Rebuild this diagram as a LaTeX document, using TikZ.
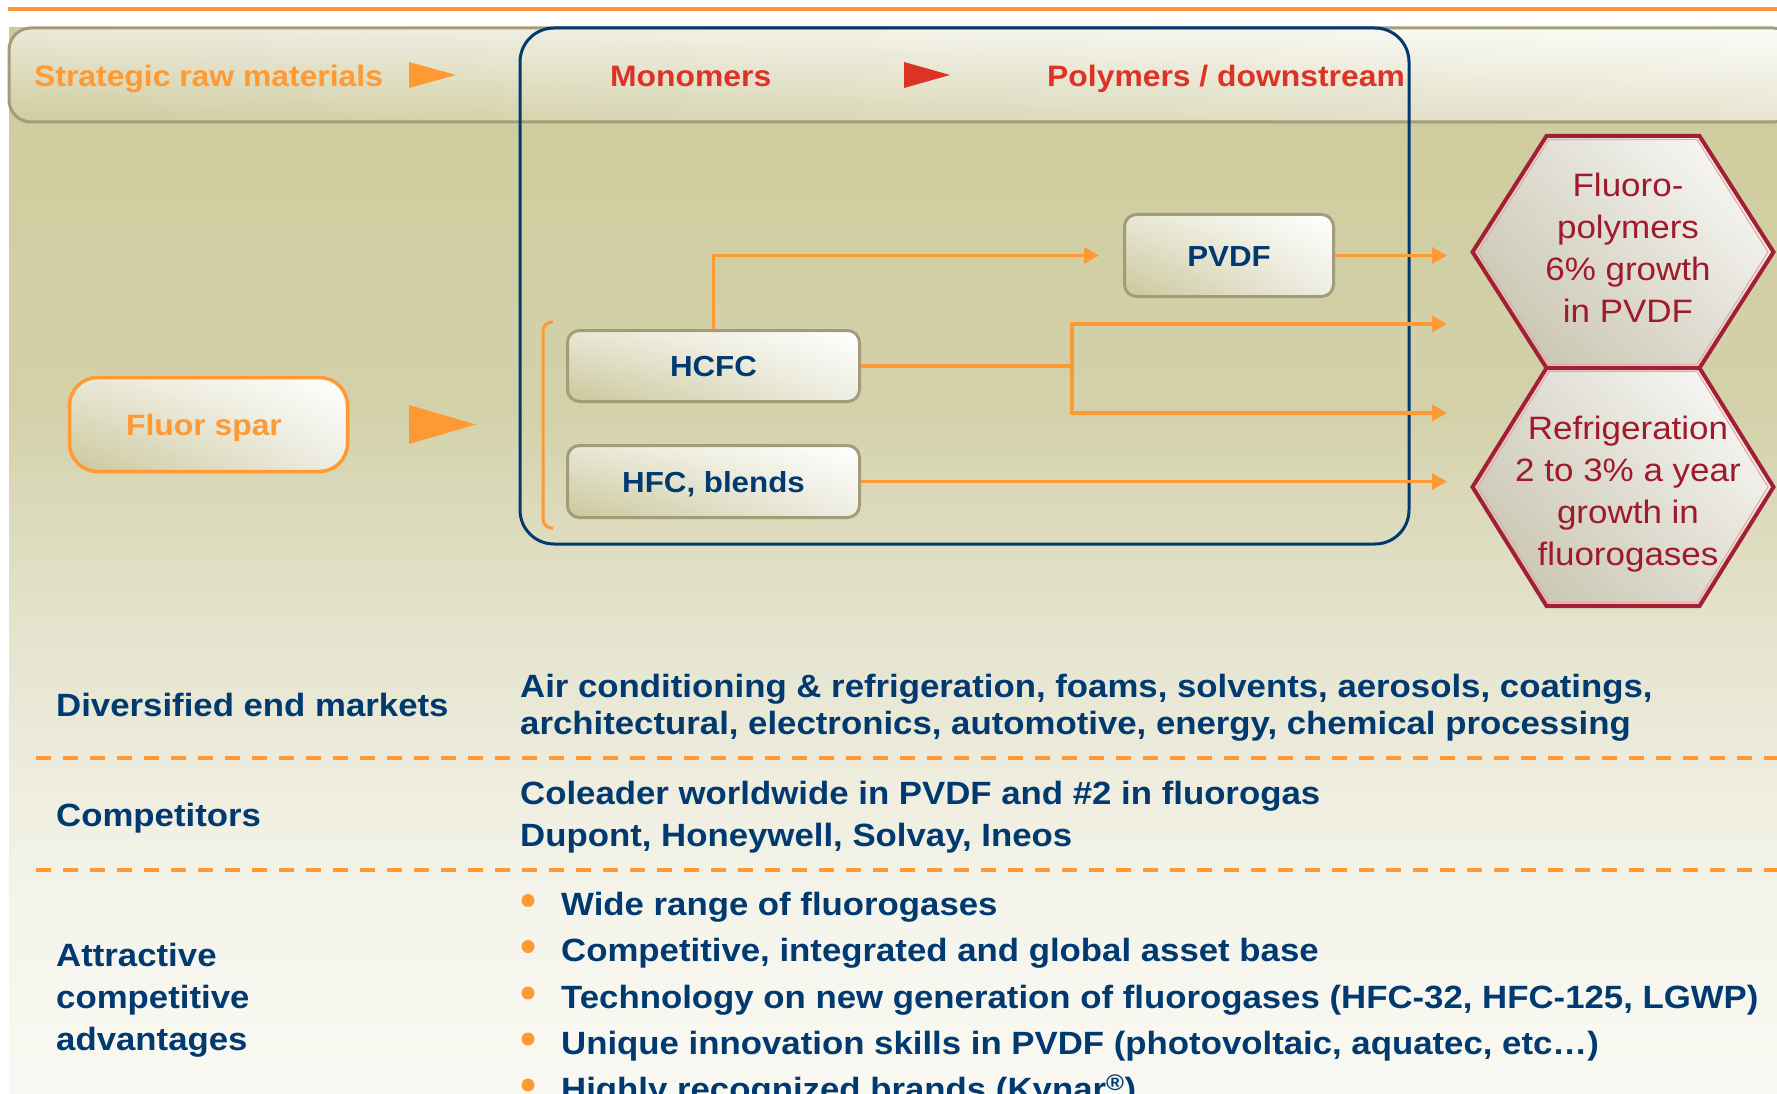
\documentclass[tikz,border=0pt]{standalone}
\usepackage{fontspec}
\setmainfont{Liberation Sans}[FakeStretch=1.08]
\usetikzlibrary{arrows.meta,shadings}

\definecolor{accent}{HTML}{FF9933}
\definecolor{headred}{HTML}{DD3327}
\definecolor{navy}{HTML}{003A70}
\definecolor{chipedge}{HTML}{A39C78}
\definecolor{hexedge}{HTML}{A31F34}
\definecolor{hexglow}{HTML}{E9A9A9}
\definecolor{hexink}{HTML}{A01A2B}
\definecolor{bgA}{HTML}{CECB9B}
\definecolor{bgB}{HTML}{D3D1A9}
\definecolor{bgC}{HTML}{E6E5D0}
\definecolor{bgD}{HTML}{F5F4EB}
\definecolor{bgE}{HTML}{F9F9F3}

\tikzset{
  hdr/.style={anchor=base west, inner sep=0pt, font=\bfseries\fontsize{29.5}{34}\selectfont},
  chip/.style={draw=chipedge, line width=3pt, rounded corners=12pt, inner sep=0pt,
    upper left={rgb,255:red,232;green,231;blue,213}, upper right=white,
    lower left={rgb,255:red,202;green,199;blue,154}, lower right={rgb,255:red,238;green,237;blue,227},
    text=navy, font=\bfseries\fontsize{29}{34}\selectfont, text height=21pt, text depth=0pt},
  flowline/.style={accent, line width=3.5pt},
  flow/.style={flowline, -{Triangle[length=15pt,width=16pt]}},
  body/.style={anchor=base west, inner sep=0pt, text=navy, font=\bfseries\fontsize{32.2}{42}\selectfont},
  dot/.style={circle, fill=accent, inner sep=0pt, minimum size=13pt},
  hexfill/.style={upper left={rgb,255:red,218;green,216;blue,203}, upper right=white,
    lower left={rgb,255:red,195;green,191;blue,168}, lower right={rgb,255:red,226;green,224;blue,214}},
  hexline/.style={draw=hexedge, line width=4pt, line join=miter},
  hextext/.style={align=center, text=hexink, inner sep=0pt, font=\fontsize{32.4}{42}\selectfont},
  divider/.style={accent, line width=4pt, dash pattern=on 15pt off 12pt},
}

\begin{document}
\begin{tikzpicture}[x=1pt,y=-1pt]
  \useasboundingbox (0,0) rectangle (1777,1094);
  \clip (0,0) rectangle (1777,1094);
  \fill[white] (0,0) rectangle (1777,1094);

  % page rule
  \draw[accent, line width=3.3pt] (8,9) -- (1777,9);

  % panel background, light at the bottom
  \shade[top color=bgA, bottom color=bgB] (9,28) rectangle (1777,401);
  \shade[top color=bgB, bottom color=bgC] (9,400) rectangle (1777,651);
  \shade[top color=bgC, bottom color=bgD] (9,650) rectangle (1777,901);
  \shade[top color=bgD, bottom color=bgE] (9,900) rectangle (1777,1094);

  % value-chain header band
  \shade[upper left={rgb,255:red,234;green,233;blue,217}, upper right={rgb,255:red,252;green,252;blue,248},
         lower left={rgb,255:red,207;green,204;blue,158}, lower right={rgb,255:red,230;green,228;blue,208},
         rounded corners=22pt] (9,28) rectangle (1795,122);
  \draw[chipedge, line width=3pt, rounded corners=22pt] (9,28) rectangle (1795,122);

  \node[hdr, text=accent] (rawlbl) at (34,86.5) {Strategic raw materials};
  \fill[accent] (409,62) -- (456,75) -- (409,88) -- cycle;
  \node[hdr, text=headred] (monolbl) at (610,86.5) {Monomers};
  \fill[headred] (904,62) -- (950,75) -- (904,88) -- cycle;
  \node[hdr, text=headred] (polylbl) at (1047,86.5) {Polymers / downstream};

  % monomer / polymer frame
  \draw[navy, line width=3pt, rounded corners=34pt] (520,28) rectangle (1409,544);

  % raw material
  \node[chip, draw=accent, line width=3.5pt, rounded corners=28pt, text=accent,
        minimum width=278pt, minimum height=94pt,
        font=\bfseries\fontsize{29.5}{34}\selectfont] (fluor) at (208.5,424.5) {\hspace*{-9pt}Fluor spar};
  \fill[accent] (409,405) -- (476,424.5) -- (409,444) -- cycle;

  % monomer group bracket
  \draw[accent, line width=3pt, rounded corners=9pt] (553,322) -- (543,322) -- (543,528) -- (553,528);

  % products
  \node[chip, minimum width=292pt, minimum height=71pt] (hcfc) at (713.5,366) {HCFC};
  \node[chip, minimum width=292pt, minimum height=72pt] (hfc) at (713.5,481.5) {HFC, blends};
  \node[chip, minimum width=209pt, minimum height=82pt] (pvdf) at (1229,255.5) {PVDF};

  % end points of the flows
  \coordinate (split) at (1072,366);
  \coordinate (outA) at (1447,255.5);
  \coordinate (outB) at (1447,324);
  \coordinate (outC) at (1447,413);
  \coordinate (outD) at (1447,481.5);

  \draw[flow, shorten >=24pt] (hcfc.north) |- (pvdf.west);
  \draw[flow] (pvdf.east) -- (outA);
  \draw[flowline] (hcfc.east) -- (split);
  \draw[flow] (split) |- (outB);
  \draw[flow] (split) |- (outC);
  \draw[flow] (hfc.east) -- (outD);

  % growth hexagons
  \shade[hexfill] (1472.5,252) -- (1546.5,136) -- (1699.5,136) -- (1773.5,252) -- (1699.5,368) -- (1546.5,368) -- cycle;
  \draw[hexline] (1472.5,252) -- (1546.5,136) -- (1699.5,136) -- (1773.5,252) -- (1699.5,368) -- (1546.5,368) -- cycle;
  \draw[hexglow, line width=1.2pt] (1478,252) -- (1549,139.5) -- (1697,139.5) -- (1768,252) -- (1697,364.5) -- (1549,364.5) -- cycle;
  \node[hextext] (hexFluoro) at (1628,248) {Fluoro-\\polymers\\6\% growth\\in PVDF};

  \shade[hexfill] (1472.5,487) -- (1546.5,368) -- (1699.5,368) -- (1773.5,487) -- (1699.5,606) -- (1546.5,606) -- cycle;
  \draw[hexline] (1472.5,487) -- (1546.5,368) -- (1699.5,368) -- (1773.5,487) -- (1699.5,606) -- (1546.5,606) -- cycle;
  \draw[hexglow, line width=1.2pt] (1478,487) -- (1549,371.5) -- (1697,371.5) -- (1768,487) -- (1697,602.5) -- (1549,602.5) -- cycle;
  \node[hextext] (hexRefrig) at (1628,494) {Refrigeration\\2 to 3\% a year\\growth in\\fluorogases};

  % business profile table
  \node[body] (mkthead) at (56,716.5) {Diversified end markets};
  \node[body] (mkt1) at (520,697.5) {Air conditioning \& refrigeration, foams, solvents, aerosols, coatings,};
  \node[body] (mkt2) at (520,734.5) {architectural, electronics, automotive, energy, chemical processing};

  \draw[divider] (36,758) -- (1777,758);

  \node[body] (comphead) at (56,826.5) {Competitors};
  \node[body] (comp1) at (520,804.5) {Coleader worldwide in PVDF and \#2 in fluorogas};
  \node[body] (comp2) at (520,846.5) {Dupont, Honeywell, Solvay, Ineos};

  \draw[divider] (36,870) -- (1777,870);

  \node[body] (advhead1) at (56,966.5) {Attractive};
  \node[body] (advhead2) at (56,1008.5) {competitive};
  \node[body] (advhead3) at (56,1050.5) {advantages};

  \node[dot] (dot1) at (528,900.5) {};
  \node[body] (adv1) at (561,915.5) {Wide range of fluorogases};
  \node[dot] (dot2) at (528,946.5) {};
  \node[body] (adv2) at (561,961.5) {Competitive, integrated and global asset base};
  \node[dot] (dot3) at (528,993) {};
  \node[body] (adv3) at (561,1008) {Technology on new generation of fluorogases (HFC-32, HFC-125, LGWP)};
  \node[dot] (dot4) at (528,1039) {};
  \node[body] (adv4) at (561,1054) {Unique innovation skills in PVDF (photovoltaic, aquatec, etc…)};
  \node[dot] (dot5) at (528,1085) {};
  \node[body] (adv5) at (561,1100) {Highly recognized brands (Kynar\textsuperscript{\textregistered})};
\end{tikzpicture}
\end{document}
